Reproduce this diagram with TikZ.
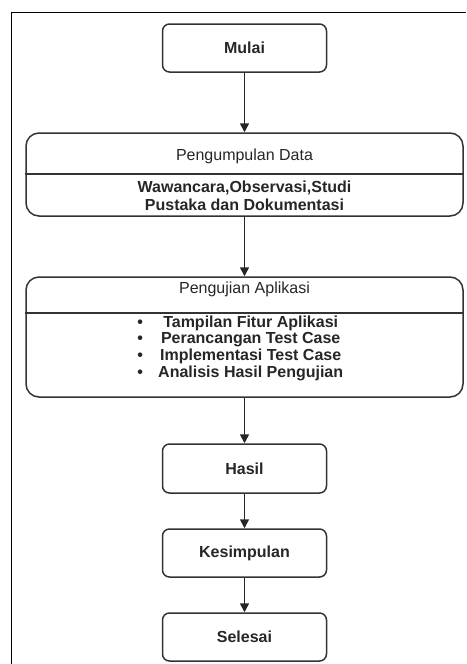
\documentclass[tikz,border=0pt]{standalone}
\usepackage{fontspec}
\setmainfont{Liberation Sans}
\usetikzlibrary{arrows.meta}

\begin{document}
\begin{tikzpicture}[x=1pt, y=1pt,
  every node/.style={text=black!85},
  stepbox/.style={draw=black!80, line width=1.5pt, rounded corners=7pt,
    minimum width=164pt, minimum height=48pt, inner sep=0pt,
    font=\fontsize{16}{18}\selectfont\bfseries},
  lanebox/.style={draw=black!80, line width=1.5pt, rounded corners=13pt,
    minimum width=437pt, inner sep=0pt},
  lanetitle/.style={inner sep=0pt, font=\fontsize{16}{18}\selectfont},
  lanetext/.style={inner sep=0pt, align=center,
    font=\fontsize{16}{18}\selectfont\bfseries},
  divider/.style={draw=black!80, line width=1.5pt},
  flow/.style={-{Triangle[width=9pt,length=9pt]}, draw=black!85, line width=1.6pt}]

  \useasboundingbox (0,0) rectangle (466,-664);
  \draw[line width=1.8pt] (11.5,-664) -- (11.5,-12.5) -- (466,-12.5); %% frame

  \node[stepbox] (mulai) at (244.5,-48) {Mulai};

  %% Pengumpulan Data
  \node[lanebox, minimum height=83pt] (kumpul) at (244.5,-174.5) {};
  \coordinate (kumpulcut) at (244.5,-174);
  \draw[divider] (kumpul.west |- kumpulcut) -- (kumpul.east |- kumpulcut);
  \node[lanetitle] (kumpuljudul) at (244.5,-156) {Pengumpulan Data};
  \node[lanetext] (kumpulisi) at (244.5,-196)
    {Wawancara,Observasi,Studi\\Pustaka dan Dokumentasi};

  %% Pengujian Aplikasi
  \node[lanebox, minimum height=120pt] (uji) at (244.5,-337) {};
  \coordinate (ujicut) at (244.5,-313);
  \draw[divider] (uji.west |- ujicut) -- (uji.east |- ujicut);
  \node[lanetitle] (ujijudul) at (244.5,-289) {Pengujian Aplikasi};
  \node[lanetext, font=\fontsize{16}{16.7}\selectfont\bfseries] (ujiisi) at (240.3,-349)
    {\begin{tabular}{@{}c@{\hspace{15.2pt}}c@{}}
      \textbullet & Tampilan Fitur Aplikasi\\
      \textbullet & Perancangan Test Case\\
      \textbullet & Implementasi Test Case\\
      \textbullet & Analisis Hasil Pengujian
    \end{tabular}};

  \node[stepbox, minimum height=49pt] (hasil) at (244.5,-468.5) {Hasil};
  \node[stepbox] (simpul) at (244.5,-553) {Kesimpulan};
  \node[stepbox] (selesai) at (244.5,-637) {Selesai};

  \draw[flow] (mulai) -- (kumpul); %% mulai -> kumpul
  \draw[flow] (kumpul) -- (uji); %% kumpul -> uji
  \draw[flow] (uji) -- (hasil); %% uji -> hasil
  \draw[flow] (hasil) -- (simpul); %% hasil -> simpul
  \draw[flow] (simpul) -- (selesai); %% simpul -> selesai

\end{tikzpicture}
\end{document}
